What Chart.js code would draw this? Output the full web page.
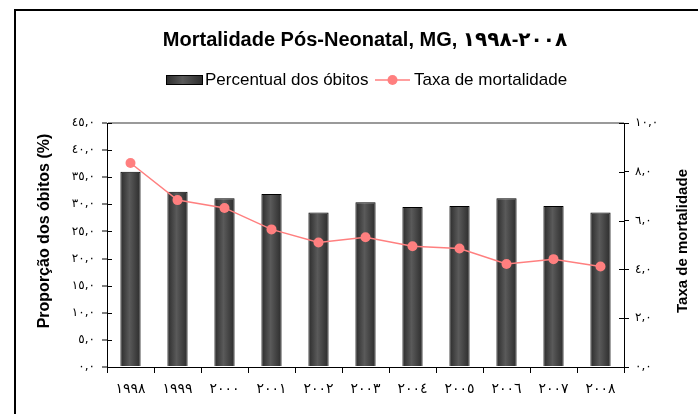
<!DOCTYPE html>
<html>
<head>
<meta charset="utf-8">
<script src="https://cdn.jsdelivr.net/npm/chart.js@4"></script>
<style>
  html, body { margin: 0; padding: 0; background: #fff; }
  #wrap { width: 698px; height: 414px; }
</style>
</head>
<body>
<div id="wrap"><canvas id="chart" width="698" height="414"></canvas></div>
<script>
// data
const years = ['١٩٩٨', '١٩٩٩', '٢٠٠٠', '٢٠٠١', '٢٠٠٢', '٢٠٠٣', '٢٠٠٤', '٢٠٠٥', '٢٠٠٦', '٢٠٠٧', '٢٠٠٨'];
const percentObitos = [36.0, 32.3, 31.1, 31.9, 28.5, 30.4, 29.5, 29.7, 31.1, 29.7, 28.5];
const taxaMortalidade = [8.36, 6.84, 6.52, 5.64, 5.10, 5.32, 4.95, 4.86, 4.22, 4.42, 4.12];
const leftTickLabels = ['٠,٠', '٥,٠', '١٠,٠', '١٥,٠', '٢٠,٠', '٢٥,٠', '٣٠,٠', '٣٥,٠', '٤٠,٠', '٤٥,٠'];
const rightTickLabels = ['٠,٠', '٢,٠', '٤,٠', '٦,٠', '٨,٠', '١٠,٠'];

const titleText = 'Mortalidade Pós-Neonatal, MG, ١٩٩٨\u200E-\u200E٢٠٠٨';
const FONT = "'Liberation Sans', Arial, 'DejaVu Sans', sans-serif";
const TICK_FONT = { family: "'DejaVu Sans', 'Liberation Sans', sans-serif", size: 12 };
const LINE_COLOR = '#ff7f7f';

function barGradient(ctx, x0, x1) {
  const g = ctx.createLinearGradient(x0, 0, x1, 0);
  g.addColorStop(0, '#2c2c2c');
  g.addColorStop(0.45, '#5a5a5a');
  g.addColorStop(1, '#2c2c2c');
  return g;
}

// frame, title, legend, axis titles and the inner half of the axis ticks
const decor = {
  id: 'decor',
  beforeDraw(chart) {
    const ctx = chart.ctx;
    ctx.save();
    ctx.strokeStyle = '#000';
    ctx.lineWidth = 2;
    ctx.strokeRect(15, 10, 720, 430);
    ctx.restore();
  },
  afterDraw(chart) {
    const ctx = chart.ctx;
    const area = chart.chartArea;
    ctx.save();
    ctx.fillStyle = '#000';
    ctx.textBaseline = 'middle';

    ctx.font = 'bold 20px ' + FONT;
    ctx.textAlign = 'center';
    ctx.fillText(titleText, 365, 40);

    // legend
    ctx.fillStyle = barGradient(ctx, 166, 203);
    ctx.fillRect(166, 75, 37, 10);
    ctx.strokeStyle = '#000';
    ctx.lineWidth = 1;
    ctx.strokeRect(166.5, 75.5, 36, 9);
    ctx.fillStyle = '#000';
    ctx.font = '17px ' + FONT;
    ctx.textAlign = 'left';
    ctx.fillText('Percentual dos óbitos', 205, 80);
    ctx.strokeStyle = LINE_COLOR;
    ctx.lineWidth = 1.5;
    ctx.beginPath();
    ctx.moveTo(375, 80);
    ctx.lineTo(410, 80);
    ctx.stroke();
    ctx.fillStyle = LINE_COLOR;
    ctx.beginPath();
    ctx.arc(392.5, 80, 5, 0, Math.PI * 2);
    ctx.fill();
    ctx.fillStyle = '#000';
    ctx.fillText('Taxa de mortalidade', 414, 80);

    // axis titles
    ctx.textAlign = 'center';
    ctx.font = 'bold 16px ' + FONT;
    ctx.save();
    ctx.translate(45, 231);
    ctx.rotate(-Math.PI / 2);
    ctx.fillText('Proporção dos óbitos (%)', 0, 0);
    ctx.restore();
    ctx.font = 'bold 15px ' + FONT;
    ctx.save();
    ctx.translate(683, 241);
    ctx.rotate(-Math.PI / 2);
    ctx.fillText('Taxa de mortalidade', 0, 0);
    ctx.restore();

    // ticks cross the axes
    ctx.strokeStyle = '#000';
    ctx.lineWidth = 1;
    const y = chart.scales.y, y1 = chart.scales.y1;
    ctx.beginPath();
    y.ticks.forEach(t => {
      const p = Math.round(y.getPixelForValue(t.value)) + 0.5;
      ctx.moveTo(area.left, p);
      ctx.lineTo(area.left + 5, p);
    });
    y1.ticks.forEach(t => {
      const p = Math.round(y1.getPixelForValue(t.value)) + 0.5;
      ctx.moveTo(area.right - 5, p);
      ctx.lineTo(area.right, p);
    });
    ctx.stroke();
    ctx.restore();
  }
};

new Chart(document.getElementById('chart'), {
  type: 'bar',
  data: {
    labels: years,
    datasets: [
      {
        type: 'line',
        label: 'Taxa de mortalidade',
        data: taxaMortalidade,
        yAxisID: 'y1',
        borderColor: LINE_COLOR,
        borderWidth: 1.5,
        backgroundColor: LINE_COLOR,
        pointRadius: 5,
        pointBorderWidth: 0,
        tension: 0,
        order: 0
      },
      {
        label: 'Percentual dos óbitos',
        data: percentObitos,
        yAxisID: 'y',
        backgroundColor: (c) => {
          const xs = c.chart.scales.x;
          const cx = xs ? xs.getPixelForValue(c.dataIndex) : NaN;
          if (!isFinite(cx)) return '#474747';
          return barGradient(c.chart.ctx, cx - 10, cx + 10);
        },
        borderColor: '#000',
        borderWidth: 1,
        barPercentage: 0.43,
        categoryPercentage: 1,
        order: 1
      }
    ]
  },
  options: {
    responsive: false,
    animation: false,
    layout: { padding: { top: 123, left: 0, right: 0, bottom: 0 } },
    plugins: {
      legend: { display: false },
      title: { display: false },
      tooltip: { enabled: false }
    },
    scales: {
      x: {
        offset: true,
        grid: { offset: true, drawOnChartArea: false, color: '#000', tickLength: 6 },
        border: { color: '#000', width: 1 },
        ticks: {
          color: '#000',
          font: { family: "'DejaVu Sans', sans-serif", size: 14 },
          padding: 8,
          maxRotation: 0
        },
        afterFit: (s) => { s.height = 47; }
      },
      y: {
        position: 'left',
        min: 0,
        max: 45,
        ticks: {
          stepSize: 5,
          color: '#000',
          font: TICK_FONT,
          padding: 7,
          callback: (v) => leftTickLabels[Math.round(v / 5)]
        },
        grid: {
          color: (c) => (c.tick && c.tick.value === 45 ? '#9a9a9a' : 'rgba(0,0,0,0)'),
          lineWidth: 2,
          tickColor: '#000',
          tickWidth: 1,
          tickLength: 5
        },
        border: { color: '#000', width: 1 },
        afterFit: (s) => { s.width = 107; }
      },
      y1: {
        position: 'right',
        min: 0,
        max: 10,
        ticks: {
          stepSize: 2,
          color: '#000',
          font: TICK_FONT,
          padding: 6,
          callback: (v) => rightTickLabels[Math.round(v / 2)]
        },
        grid: { drawOnChartArea: false, tickColor: '#000', tickLength: 5 },
        border: { color: '#000', width: 1 },
        afterFit: (s) => { s.width = 74; }
      }
    }
  },
  plugins: [decor]
});
</script>
</body>
</html>
